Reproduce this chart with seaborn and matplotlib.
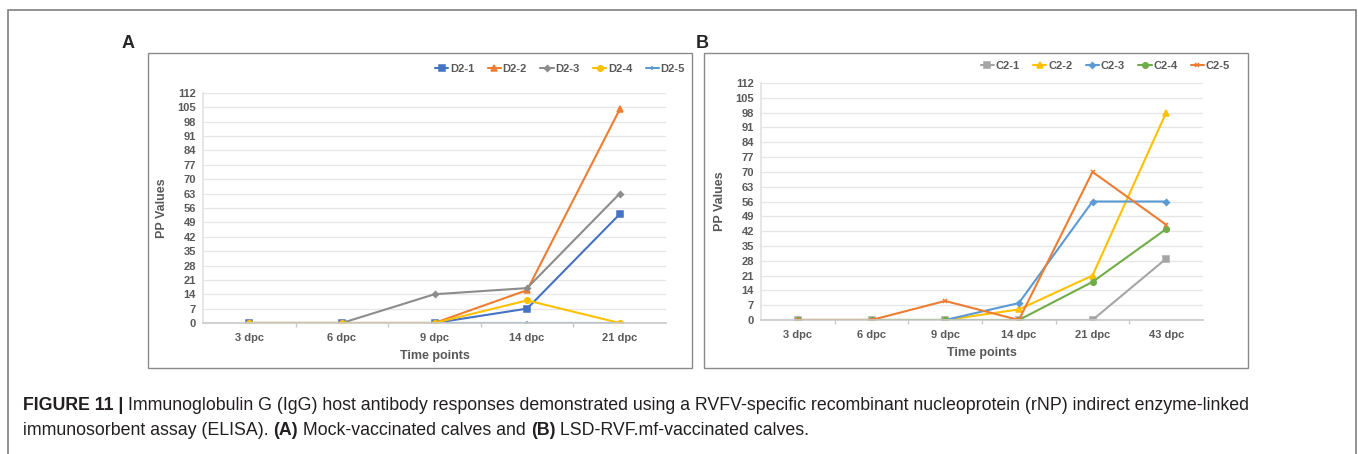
import pandas as pd
import matplotlib
matplotlib.use("Agg")
import matplotlib.pyplot as plt
import seaborn as sns
from matplotlib.patches import Rectangle

sns.set_theme(style="white")
plt.rcParams['font.family'] = ['Liberation Sans', 'DejaVu Sans']

# Panel A: mock-vaccinated calves
days_a = ['3 dpc', '6 dpc', '9 dpc', '14 dpc', '21 dpc']
d2_1 = [0, 0, 0, 7, 53]
d2_2 = [0, 0, 0, 16, 104]
d2_3 = [0, 0, 14, 17, 63]
d2_4 = [0, 0, 0, 11, 0]
d2_5 = [0, 0, 0, 0, 0]

# Panel B: LSD-RVF.mf-vaccinated calves
days_b = ['3 dpc', '6 dpc', '9 dpc', '14 dpc', '21 dpc', '43 dpc']
c2_1 = [0, 0, 0, 0, 0, 29]
c2_2 = [0, 0, 0, 5, 21, 98]
c2_3 = [0, 0, 0, 8, 56, 56]
c2_4 = [0, 0, 0, 0, 18, 43]
c2_5 = [0, 0, 9, 0, 70, 45]

yticks = list(range(0, 113, 7))

series_a = [('D2-1', d2_1, '#4472C4', 's', 4),
            ('D2-2', d2_2, '#ED7D31', '^', 4),
            ('D2-3', d2_3, '#8C8C8C', 'D', 3),
            ('D2-5', d2_5, '#5B9BD5', '+', 3.5),
            ('D2-4', d2_4, '#FFC000', 'o', 4)]
legend_a = ['D2-1', 'D2-2', 'D2-3', 'D2-4', 'D2-5']

series_b = [('C2-1', c2_1, '#A5A5A5', 's', 4),
            ('C2-2', c2_2, '#FFC000', '^', 4),
            ('C2-3', c2_3, '#5B9BD5', 'D', 3),
            ('C2-4', c2_4, '#70AD47', 'o', 4),
            ('C2-5', c2_5, '#ED7D31', 'x', 3.5)]
legend_b = ['C2-1', 'C2-2', 'C2-3', 'C2-4', 'C2-5']

W, H = 1358, 454
fig = plt.figure(figsize=(W / 100, H / 100), dpi=100)


def px(x0, y0, x1, y1):
    return [x0 / W, 1 - y1 / H, (x1 - x0) / W, (y1 - y0) / H]


def box(x0, y0, x1, y1, lw=1.2, color='#7f7f7f'):
    fig.patches.append(Rectangle((x0 / W, 1 - y1 / H), (x1 - x0) / W, (y1 - y0) / H,
                                 transform=fig.transFigure, fill=False,
                                 lw=lw, edgecolor=color))


def panel(rect, days, series, order, leg_anchor):
    ax = fig.add_axes(rect)
    for name, vals, color, mk, ms in series:
        df = pd.DataFrame({'day': days, 'pp': vals})
        sns.lineplot(data=df, x='day', y='pp', ax=ax, sort=False, color=color,
                     marker=mk, markersize=ms, markeredgecolor=color,
                     markeredgewidth=1.1, lw=1.5, label=name)
    ax.set_ylim(0, 112)
    ax.set_xlim(-0.5, len(days) - 0.5)
    ax.set_yticks(yticks)
    ax.set_xticks(range(len(days)))
    ax.set_xticklabels(days)
    ax.set_xticks([i + 0.5 for i in range(len(days) - 1)], minor=True)
    ax.grid(axis='y', color='#e6e6e6', lw=0.9)
    ax.set_axisbelow(True)
    for s in ['top', 'right']:
        ax.spines[s].set_visible(False)
    ax.spines['left'].set_color('#e3e3e3')
    ax.spines['bottom'].set_color('#c8c8c8')
    ax.spines['bottom'].set_linewidth(1.2)
    ax.tick_params(axis='x', which='minor', length=3, color='#c8c8c8', bottom=True)
    ax.tick_params(axis='x', which='major', length=0, pad=7)
    ax.tick_params(axis='y', length=0, pad=5)
    for lab in ax.get_xticklabels() + ax.get_yticklabels():
        lab.set_fontsize(8)
        lab.set_fontweight('bold')
        lab.set_color('#595959')
    ax.set_xlabel('Time points', fontsize=9, fontweight='bold', color='#595959', labelpad=5)
    ax.set_ylabel('PP Values', fontsize=9, fontweight='bold', color='#595959', labelpad=7)
    handles, labels = ax.get_legend_handles_labels()
    hmap = dict(zip(labels, handles))
    ax.legend([hmap[n] for n in order], order, loc='center right',
              bbox_to_anchor=leg_anchor, bbox_transform=fig.transFigure,
              ncol=5, frameon=False, handlelength=1.2,
              handletextpad=0.15, columnspacing=1.2, borderaxespad=0, borderpad=0,
              labelcolor='#595959', prop={'weight': 'bold', 'size': 8})
    return ax


panel(px(203, 93, 666, 323), days_a, series_a, legend_a, (685 / W, 1 - 69 / H))
panel(px(761, 83, 1203, 320), days_b, series_b, legend_b, (1230 / W, 1 - 66 / H))

# frames
box(8, 10, 1356, 470)
box(148, 53, 692, 368, lw=1.0, color='#8a8a8a')
box(704, 53, 1248, 368, lw=1.0, color='#8a8a8a')

fig.text(122 / W, 1 - 43 / H, 'A', fontsize=13, fontweight='bold', va='center')
fig.text(696 / W, 1 - 43 / H, 'B', fontsize=13, fontweight='bold', va='center')

# caption with mixed bold / regular pieces
renderer = fig.canvas.get_renderer()


def caption_line(x, y, pieces):
    for txt, bold in pieces:
        t = fig.text(x / W, 1 - y / H, txt, fontsize=12.8, color='#231f20',
                     fontweight='bold' if bold else 'normal', va='baseline')
        bb = t.get_window_extent(renderer)
        x += bb.width


caption_line(23, 410, [('FIGURE 11 | ', True),
                       ('Immunoglobulin G (IgG) host antibody responses demonstrated using a '
                        'RVFV-specific recombinant nucleoprotein (rNP) indirect enzyme-linked', False)])
caption_line(23, 435, [('immunosorbent assay (ELISA). ', False), ('(A)', True),
                       (' Mock-vaccinated calves and ', False), ('(B)', True),
                       (' LSD-RVF.mf-vaccinated calves.', False)])

fig.savefig('out.png', dpi=100)
